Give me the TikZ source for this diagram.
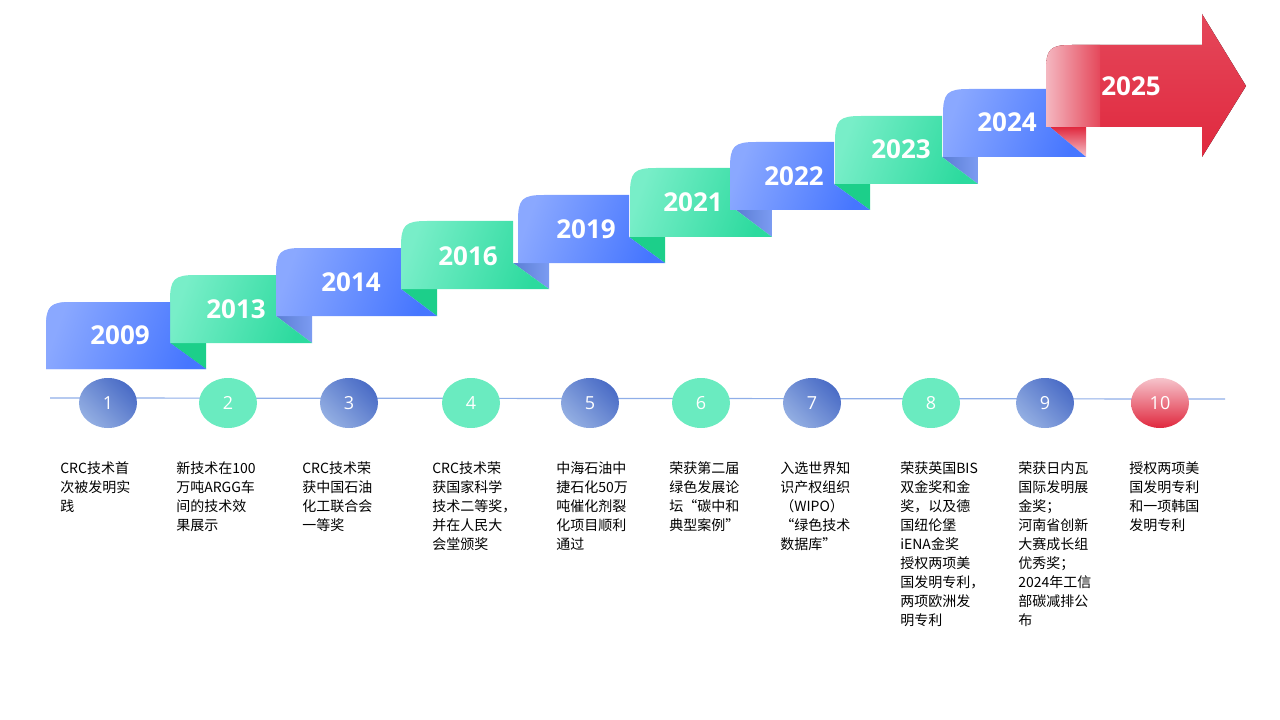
\documentclass[tikz,border=0pt]{standalone}
\usepackage{fontspec}
\setmainfont{Open Sans}
\newfontfamily\cjk{Noto Sans CJK SC}
\usetikzlibrary{shapes.geometric}
\definecolor{bL}{HTML}{8AA8FF}\definecolor{bR}{HTML}{4676FF}
\definecolor{gL}{HTML}{78EEC8}\definecolor{gR}{HTML}{2CDA9E}
\definecolor{gF}{HTML}{1CCF8A}\definecolor{bF}{HTML}{5B7ED4}
\definecolor{rR}{HTML}{E0283E}\definecolor{rP}{HTML}{F6C4CC}
\definecolor{cbL}{HTML}{93AEE2}\definecolor{cbR}{HTML}{4A6CC6}
\definecolor{cg}{HTML}{6AEBC0}\definecolor{ln}{HTML}{8FAEE8}
\tikzset{
 yr/.style={text=white,font=\bfseries\fontsize{19.5}{22}\selectfont},
 cnum/.style={ellipse,minimum width=43.5pt,minimum height=37.5pt,inner sep=0pt,text=white,font=\fontsize{13.5}{15}\selectfont},
 cblue/.style={cnum,left color=cbL,right color=cbR,shading angle=135},
 cgreen/.style={cnum,fill=cg},
 cred/.style={cnum,top color=rP,bottom color=rR},
 desc/.style={anchor=north west,inner sep=0pt,align=left,font=\cjk\fontsize{10.5}{14.25}\selectfont},
 blueT/.style={left color=bL,right color=bR,shading angle=70},
 greenT/.style={left color=gL,right color=gR,shading angle=70},
}
\newcommand\mytab[6]{%
 \path[#5] (#1,#4) -- (#1,{#2+26}) .. controls (#1,{#2+4}) and ({#1+4},#2) .. ({#1+26},#2) -- (#3,#2) -- (#3,#6) -- ({#3+36},#4) -- cycle;}
\newcommand\myfold[4]{%
 \path[#4] (#1,#2) -- ({#1+36},#2) -- ({#1+36},#3) -- cycle;}
\begin{document}
\begin{tikzpicture}[x=0.75pt,y=-0.75pt]
\useasboundingbox (0,0) rectangle (1280,720);
\myfold{170}{343}{369}{fill=gF}
\myfold{276}{316}{343}{left color=bF,right color=bL!70!bF}
\myfold{401}{289}{316}{fill=gF}
\myfold{513}{263}{289}{left color=bF,right color=bL!70!bF}
\myfold{629}{237}{263}{fill=gF}
\myfold{736}{210}{237}{left color=bF,right color=bL!70!bF}
\myfold{834}{184}{210}{fill=gF}
\myfold{942}{157}{184}{left color=bF,right color=bL!70!bF}
\myfold{1050}{127}{157}{top color=rR,bottom color=rP}
\mytab{46}{302}{170}{369}{blueT}{343}
\mytab{170}{275}{276}{343}{greenT}{316}
\mytab{276}{248}{401}{316}{blueT}{289}
\mytab{401}{221}{513}{289}{greenT}{263}
\mytab{518}{195}{629}{263}{blueT}{237}
\mytab{630}{168}{736}{237}{greenT}{210}
\mytab{730}{142}{834}{210}{blueT}{184}
\mytab{835}{116}{942}{184}{greenT}{157}
\mytab{943}{89}{1050}{157}{blueT}{127}
\mytab{46}{302}{170}{369}{blueT}{343}
\begin{scope}
\clip (1046,127) -- (1046,71) .. controls (1046,49) and (1050,45) .. (1072,45) -- (1202,45) -- (1202,14) -- (1246,86) -- (1202,157) -- (1202,127) -- cycle;
\fill[top color=rR!85!white,bottom color=rR] (1040,10) rectangle (1250,160);
\shade[left color=rP,right color=rR!85!white] (1040,10) rectangle (1100,160);
\end{scope}
\node[yr] (y1) at (120,335) {2009};
\node[yr] (y2) at (236,309) {2013};
\node[yr] (y3) at (351,282) {2014};
\node[yr] (y4) at (468,256) {2016};
\node[yr] (y5) at (586,229) {2019};
\node[yr] (y6) at (693,202) {2021};
\node[yr] (y7) at (794,176) {2022};
\node[yr] (y8) at (901,149) {2023};
\node[yr] (y9) at (1007,122) {2024};
\node[yr] (y10) at (1131,86) {2025};
\coordinate (L) at (50,398); \coordinate (R) at (1225,399);
\draw[ln,line width=0.9pt] (L) -- (R);
\node[cblue] (c1) at (108,403) {1};
\node[cgreen] (c2) at (228,403) {2};
\node[cblue] (c3) at (349,403) {3};
\node[cgreen] (c4) at (471,403) {4};
\node[cblue] (c5) at (590,403) {5};
\node[cgreen] (c6) at (701,403) {6};
\node[cblue] (c7) at (812,403) {7};
\node[cgreen] (c8) at (931,403) {8};
\node[cblue] (c9) at (1045,403) {9};
\node[cred] (c10) at (1160,403) {10};
\node[desc] (t1) at (60,461) {CRC技术首\\次被发明实\\践};
\node[desc] (t2) at (176,461) {新技术在100\\万吨ARGG车\\间的技术效\\果展示};
\node[desc] (t3) at (302,461) {CRC技术荣\\获中国石油\\化工联合会\\一等奖};
\node[desc] (t4) at (432,461) {CRC技术荣\\获国家科学\\技术二等奖，\\并在人民大\\会堂颁奖};
\node[desc] (t5) at (556,461) {中海石油中\\捷石化50万\\吨催化剂裂\\化项目顺利\\通过};
\node[desc] (t6) at (669,461) {荣获第二届\\绿色发展论\\坛“碳中和\\典型案例”};
\node[desc] (t7) at (780,461) {入选世界知\\识产权组织\\（WIPO）\\“绿色技术\\数据库”};
\node[desc] (t8) at (900,461) {荣获英国BIS\\双金奖和金\\奖，以及德\\国纽伦堡\\iENA金奖\\授权两项美\\国发明专利，\\两项欧洲发\\明专利};
\node[desc] (t9) at (1018,461) {荣获日内瓦\\国际发明展\\金奖；\\河南省创新\\大赛成长组\\优秀奖；\\2024年工信\\部碳减排公\\布};
\node[desc] (t10) at (1129,461) {授权两项美\\国发明专利\\和一项韩国\\发明专利};
\end{tikzpicture}
\end{document}
